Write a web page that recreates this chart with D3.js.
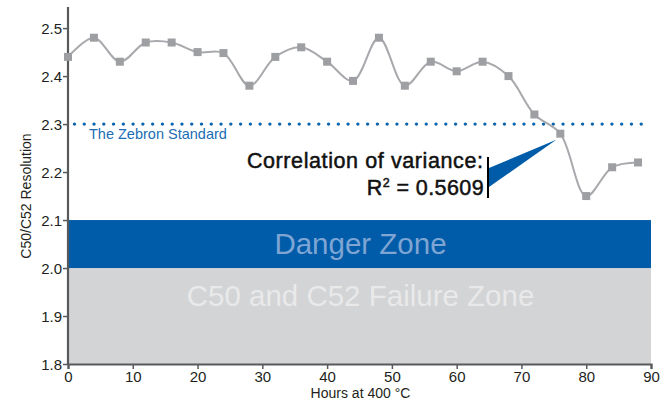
<!DOCTYPE html>
<html>
<head>
<meta charset="utf-8">
<script src="https://cdn.jsdelivr.net/npm/d3@7"></script>
<style>
  body { margin: 0; background: #fff; }
  svg { display: block; font-family: "Liberation Sans", Arial, sans-serif; }
</style>
</head>
<body>
<div id="chart"></div>
<script>
// data
const hours = [0, 4, 8, 12, 16, 20, 24, 28, 32, 36, 40, 44, 48, 52, 56, 60, 64, 68, 72, 76, 80, 84, 88];
const resolution = [2.44, 2.48, 2.43, 2.47, 2.47, 2.45, 2.448, 2.38, 2.44, 2.46, 2.43, 2.39, 2.48, 2.38, 2.43, 2.41, 2.43, 2.40, 2.32, 2.28, 2.15, 2.21, 2.22];
const xTicks = [0, 10, 20, 30, 40, 50, 60, 70, 80, 90];
const yTicks = [1.8, 1.9, 2.0, 2.1, 2.2, 2.3, 2.4, 2.5];
const zebronStandard = 2.3;
const dangerZone = [2.0, 2.1];
const failureZone = [1.8, 2.0];
const rSquared = "0.5609";
const calloutHour = 76;

const width = 672, height = 402;
const margin = {top: 7, right: 21, bottom: 38, left: 68};

const svg = d3.select("#chart").append("svg")
  .attr("width", width)
  .attr("height", height);

const x = d3.scaleLinear().domain([0, 90]).range([margin.left, width - margin.right]);
const y = d3.scaleLinear().domain([1.8, 2.544]).range([height - margin.bottom, margin.top]);

// zones
svg.append("rect")
  .attr("x", x(0)).attr("width", x(90) - x(0))
  .attr("y", y(failureZone[1])).attr("height", y(failureZone[0]) - y(failureZone[1]))
  .attr("fill", "#d3d4d6");

svg.append("rect")
  .attr("x", x(0)).attr("width", x(90) - x(0))
  .attr("y", y(dangerZone[1])).attr("height", y(dangerZone[0]) - y(dangerZone[1]))
  .attr("fill", "#005ca9");

svg.append("text")
  .attr("x", x(45) + 1).attr("y", y(2.05) + 10)
  .attr("text-anchor", "middle")
  .attr("font-size", 29.5)
  .attr("fill", "#7ea5d3")
  .text("Danger Zone");

svg.append("text")
  .attr("x", x(45) + 1).attr("y", y(1.93) + 4)
  .attr("text-anchor", "middle")
  .attr("font-size", 29.5)
  .attr("fill", "#e9e9ea")
  .text("C50 and C52 Failure Zone");

// zebron standard dotted line
const dotStart = x(1), dotEnd = x(90);
svg.append("line")
  .attr("x1", dotStart).attr("x2", dotEnd)
  .attr("y1", y(zebronStandard)).attr("y2", y(zebronStandard))
  .attr("stroke", "#0b64ae")
  .attr("stroke-width", 3.4)
  .attr("stroke-linecap", "round")
  .attr("stroke-dasharray", `0 ${(dotEnd - dotStart) / 59}`);

svg.append("text")
  .attr("x", 89).attr("y", y(zebronStandard) + 15)
  .attr("font-size", 14.5)
  .attr("fill", "#1b6db5")
  .text("The Zebron Standard");

// axes
const xAxis = svg.append("g")
  .attr("transform", `translate(0,${y(1.8)})`)
  .call(d3.axisBottom(x).tickValues(xTicks).tickSize(5).tickPadding(2));

const yAxis = svg.append("g")
  .attr("transform", `translate(${x(0)},0)`)
  .call(d3.axisLeft(y).tickValues(yTicks).tickFormat(d3.format(".1f")).tickSize(5).tickPadding(1));

[xAxis, yAxis].forEach(g => {
  g.select(".domain").attr("stroke", "#58595b").attr("stroke-width", 2.2);
  g.selectAll(".tick line").attr("stroke", "#58595b").attr("stroke-width", 1.5);
  g.selectAll(".tick text").attr("fill", "#231f20").attr("font-size", 15)
    .attr("font-family", "'Liberation Sans', Arial, sans-serif");
});
yAxis.select(".domain").attr("d", `M0,${y(1.8)}V${margin.top}`);
xAxis.selectAll(".tick text").attr("dy", "0.72em");
yAxis.selectAll(".tick text").attr("dy", "0.35em");

svg.append("text")
  .attr("x", x(45) + 1).attr("y", 398)
  .attr("text-anchor", "middle")
  .attr("font-size", 14)
  .attr("fill", "#231f20")
  .text("Hours at 400 °C");

svg.append("text")
  .attr("transform", `translate(31,${196}) rotate(-90)`)
  .attr("text-anchor", "middle")
  .attr("font-size", 14)
  .attr("fill", "#231f20")
  .text("C50/C52 Resolution");

// series
const points = hours.map((h, i) => ({h, v: resolution[i]}));

svg.append("path")
  .datum(points)
  .attr("fill", "none")
  .attr("stroke", "#a7a9ac")
  .attr("stroke-width", 2)
  .attr("d", d3.line().x(d => x(d.h)).y(d => y(d.v)).curve(d3.curveCatmullRom));

svg.selectAll("rect.marker")
  .data(points)
  .enter()
  .append("rect")
    .attr("class", "marker")
    .attr("x", d => x(d.h) - 4)
    .attr("y", d => y(d.v) - 4)
    .attr("width", 8)
    .attr("height", 8)
    .attr("fill", "#9d9fa2");

// correlation callout
const callout = points.find(d => d.h === calloutHour);
const barX = 489;
svg.append("path")
  .attr("d", `M${barX},${168}L${barX},${187}L${x(callout.h) - 4},${y(callout.v) + 6}Z`)
  .attr("fill", "#005ca9");

svg.append("line")
  .attr("x1", barX - 1).attr("x2", barX - 1)
  .attr("y1", 157).attr("y2", 198)
  .attr("stroke", "#000")
  .attr("stroke-width", 2);

// letter-spacing adds a trailing gap, so shift anchor right by one spacing
svg.append("text")
  .attr("x", 483.6).attr("y", 168)
  .attr("text-anchor", "end")
  .attr("font-size", 21.5)
  .attr("letter-spacing", 0.6)
  .attr("fill", "#111")
  .attr("stroke", "#111")
  .attr("stroke-width", 0.5)
  .text("Correlation of variance:");

const r2 = svg.append("text")
  .attr("x", 484).attr("y", 195)
  .attr("text-anchor", "end")
  .attr("font-size", 21.5)
  .attr("letter-spacing", 0.4)
  .attr("fill", "#111")
  .attr("stroke", "#111")
  .attr("stroke-width", 0.5);
r2.append("tspan").text("R");
r2.append("tspan").attr("font-size", 12.5).attr("dy", -8).text("2");
r2.append("tspan").attr("dy", 8).text(" = " + rSquared);
</script>
</body>
</html>
